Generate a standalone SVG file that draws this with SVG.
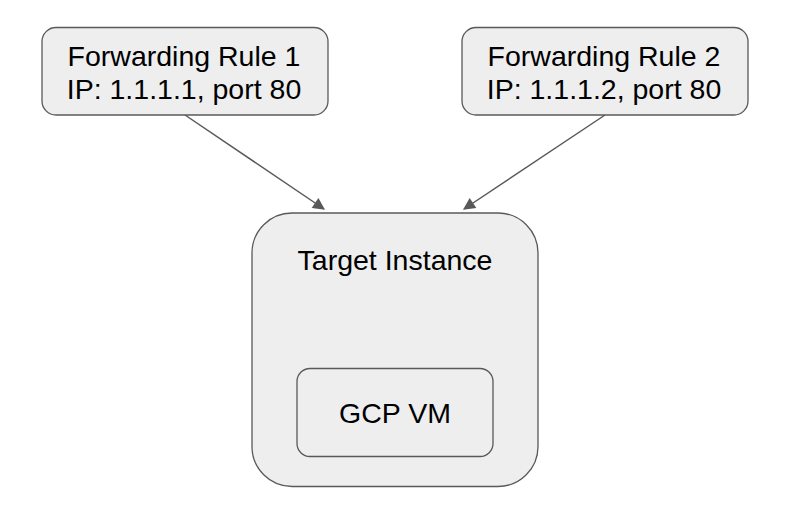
<svg xmlns="http://www.w3.org/2000/svg" width="800" height="521" viewBox="0 0 800 521">
<defs>
<marker id="arr" viewBox="0 0 10 10" refX="9" refY="5" markerWidth="14" markerHeight="12" markerUnits="userSpaceOnUse" orient="auto">
<path d="M0,0 L10,5 L0,10 z" fill="#595959"/>
</marker>
<style>
.box{fill:#eeeeee;stroke:#595959;stroke-width:1.3}
.t{font-family:"Liberation Sans",Arial,sans-serif;font-size:28.5px;fill:#000;text-anchor:middle}
.c{stroke:#595959;stroke-width:1.5;fill:none}
</style>
</defs>
<rect width="800" height="521" fill="#ffffff"/>
<g id="connectors">
<line class="c" x1="185" y1="115" x2="324" y2="209" marker-end="url(#arr)"/>
<line class="c" x1="605" y1="115" x2="464" y2="209" marker-end="url(#arr)"/>
</g>
<g id="rule1">
<rect class="box" x="42" y="27.5" width="286" height="87.5" rx="14"/>
<text class="t" x="184" y="66">Forwarding Rule 1</text>
<text class="t" x="184" y="98.5">IP: 1.1.1.1, port 80</text>
</g>
<g id="rule2">
<rect class="box" x="462" y="27.5" width="286" height="87.5" rx="14"/>
<text class="t" x="604" y="66">Forwarding Rule 2</text>
<text class="t" x="604" y="98.5">IP: 1.1.1.2, port 80</text>
</g>
<g id="target">
<rect class="box" x="252" y="213" width="286" height="273.5" rx="40"/>
<text class="t" x="395" y="269.5">Target Instance</text>
</g>
<g id="vm">
<rect class="box" x="297" y="368.5" width="196" height="88" rx="13"/>
<text class="t" x="395" y="423">GCP VM</text>
</g>
</svg>
